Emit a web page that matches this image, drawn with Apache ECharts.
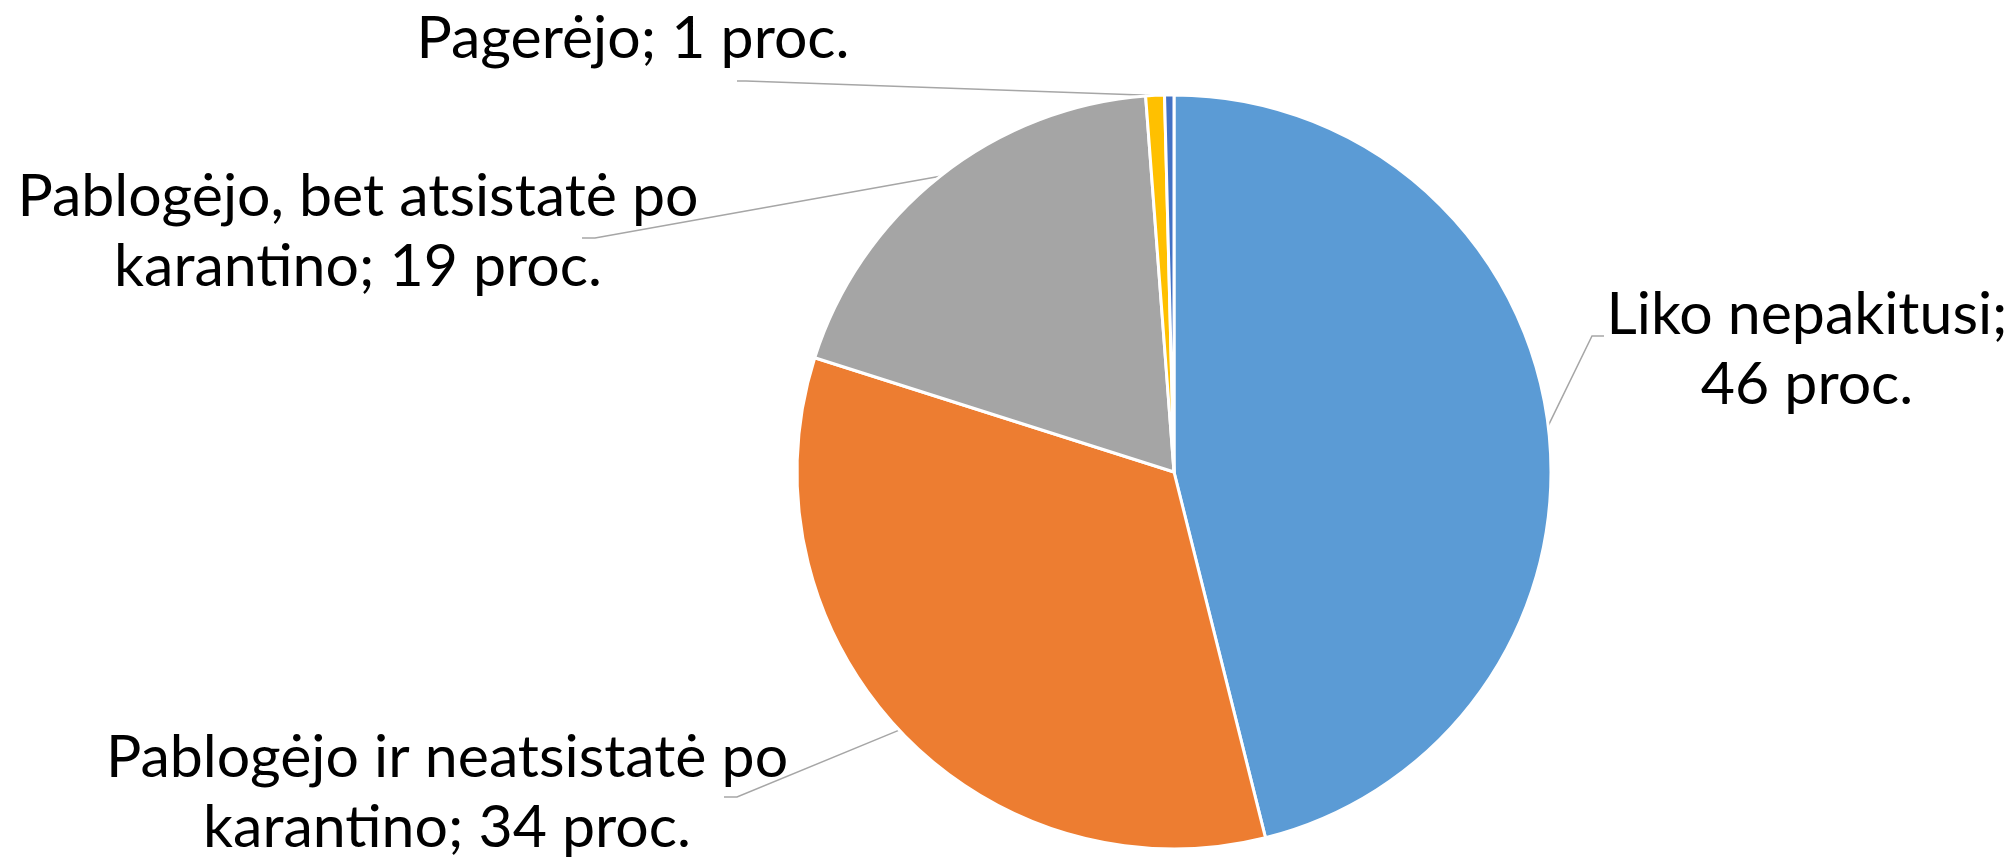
<!DOCTYPE html>
<html>
<head>
<meta charset="utf-8">
<script src="https://cdn.jsdelivr.net/npm/echarts@6/dist/echarts.min.js"></script>
<style>
  html, body { margin: 0; padding: 0; background: #ffffff; }
  #chart { width: 2016px; height: 864px; }
</style>
</head>
<body>
<div id="chart"></div>
<script>
// ---- data ----
const categories = [
  'Liko nepakitusi',
  'Pablogėjo ir neatsistatė po karantino',
  'Pablogėjo, bet atsistatė po karantino',
  'Pagerėjo',
  'Kita'
];
const values = [46.1, 33.8, 18.9, 0.8, 0.4];
const labelTexts = [
  'Liko nepakitusi;\n46 proc.',
  'Pablogėjo ir neatsistatė po\nkarantino; 34 proc.',
  'Pablogėjo, bet atsistatė po\nkarantino; 19 proc.',
  'Pagerėjo; 1 proc.',
  ''
];
const colors = ['#5B9BD5', '#ED7D31', '#A5A5A5', '#FFC000', '#4472C4'];

// ---- label layout (positions of label blocks and leader-line elbows) ----
const labelPlacement = [
  { x: 1807, y: 350, elbow: [[1592, 336], [1604, 336]] },
  { x: 447,  y: 793, elbow: [[737, 797], [724, 797]] },
  { x: 358,  y: 232, elbow: [[595, 238], [582, 238]] },
  { x: 633,  y: 39,  elbow: [[746, 81], [737, 81]] }
];

const chart = echarts.init(document.getElementById('chart'), null, { renderer: 'canvas' });

const seriesData = categories.map((name, i) => {
  const item = { name: name, value: values[i], itemStyle: { color: colors[i] } };
  if (!labelTexts[i]) {
    item.label = { show: false };
    item.labelLine = { show: false };
  }
  return item;
});

chart.setOption({
  backgroundColor: '#ffffff',
  animation: false,
  series: [{
    type: 'pie',
    center: [1174, 472],
    radius: 377,
    startAngle: 90,
    clockwise: true,
    avoidLabelOverlap: false,
    data: seriesData,
    itemStyle: { borderColor: '#ffffff', borderWidth: 3 },
    label: {
      show: true,
      position: 'outside',
      formatter: p => labelTexts[p.dataIndex],
      color: '#000000',
      fontFamily: 'Lato, "Open Sans", sans-serif',
      fontSize: 59,
      lineHeight: 70,
      align: 'center'
    },
    labelLine: {
      show: true,
      length: 20,
      length2: 10,
      lineStyle: { color: '#A6A6A6', width: 1.5 }
    },
    labelLayout: function (params) {
      const pl = labelPlacement[params.dataIndex];
      if (!pl) return {};
      const start = params.labelLinePoints ? params.labelLinePoints[0] : pl.elbow[0];
      return {
        x: pl.x,
        y: pl.y,
        align: 'center',
        verticalAlign: 'middle',
        labelLinePoints: [start, pl.elbow[0], pl.elbow[1]]
      };
    }
  }]
});
</script>
</body>
</html>
